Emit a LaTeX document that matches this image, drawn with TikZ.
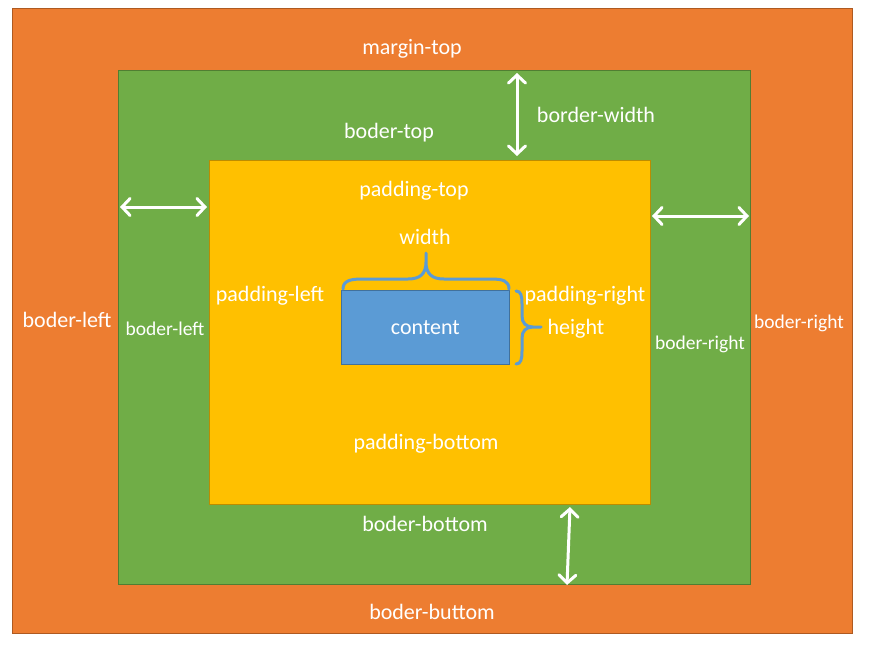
\documentclass[tikz,border=0pt]{standalone}
\usepackage{fontspec}
\setmainfont{Carlito}
\usetikzlibrary{arrows.meta}
\definecolor{marginfill}{HTML}{ED7D31}
\definecolor{marginline}{HTML}{AE5A21}
\definecolor{borderfill}{HTML}{70AD47}
\definecolor{borderline}{HTML}{507E32}
\definecolor{paddingfill}{HTML}{FFC000}
\definecolor{paddingline}{HTML}{BC8C00}
\definecolor{contentfill}{HTML}{5B9BD5}
\definecolor{contentline}{HTML}{41719C}
\tikzset{
  layer/.style={
    rectangle, anchor=north west, inner sep=0pt,
    line width=0.8pt
  },
  marginbox/.style={layer, draw=marginline, fill=marginfill},
  borderbox/.style={layer, draw=borderline, fill=borderfill},
  paddingbox/.style={layer, draw=paddingline, fill=paddingfill},
  contentbox/.style={layer, draw=contentline, fill=contentfill,
    text=white, text height=18pt, text depth=4pt,
    font=\fontsize{22}{26}\selectfont},
  lbl/.style={text=white, inner sep=0pt, text height=18pt, text depth=4pt,
    font=\fontsize{22}{26}\selectfont},
  smalllbl/.style={lbl, text height=17pt, text depth=4pt,
    font=\fontsize{19.5}{23}\selectfont},
  sizearrow/.style={<->, >={Straight Barb[length=8pt, width=17pt, line cap=round]},
    line width=3pt, draw=white},
  bracket/.style={draw=contentfill, line width=3pt, line cap=round}
}
\begin{document}
\begin{tikzpicture}[x=1pt, y=-1pt]
  \useasboundingbox[fill=white] (0,0) rectangle (881,651);

  % nested boxes
  \node[marginbox, minimum width=840pt, minimum height=625pt] (margin) at (12,8) {};
  \node[borderbox, minimum width=632pt, minimum height=514pt] (border) at (118,70) {};
  \node[paddingbox, minimum width=441pt, minimum height=344pt] (padding) at (209,160) {};
  \node[contentbox, minimum width=168pt, minimum height=74pt] (content) at (341,290) {content};

  % labels
  \node[lbl] (margintop) at (412,47) {margin-top};
  \node[lbl] (borderwidth) at (596,115) {border-width};
  \node[lbl] (bordertop) at (389,131) {boder-top};
  \node[lbl] (paddingtop) at (414,189) {padding-top};
  \node[lbl] (widthlbl) at (425,237) {width};
  \node[lbl] (paddingleft) at (270,294) {padding-left};
  \node[lbl] (paddingright) at (585,294) {padding-right};
  \node[lbl] (heightlbl) at (576,327) {height};
  \node[lbl] (marginleft) at (67,320) {boder-left};
  \node[smalllbl] (borderleft) at (165,329) {boder-left};
  \node[smalllbl] (borderright) at (700,343) {boder-right};
  \node[smalllbl] (marginright) at (799,322) {boder-right};
  \node[lbl] (paddingbottom) at (426,442) {padding-bottom};
  \node[lbl] (borderbottom) at (425,524) {boder-bottom};
  \node[lbl] (marginbottom) at (432,612) {boder-buttom};

  % arrow ends
  \coordinate (topA) at (517,73);
  \coordinate (topB) at (517,156);
  \coordinate (leftA) at (120,207);
  \coordinate (leftB) at (207,207);
  \coordinate (rightA) at (652,216);
  \coordinate (rightB) at (749,216);
  \coordinate (bottomA) at (570,507);
  \coordinate (bottomB) at (567,585);

  \draw[sizearrow] (topA) -- (topB);
  \draw[sizearrow] (leftA) -- (leftB);
  \draw[sizearrow] (rightA) -- (rightB);
  \draw[sizearrow] (bottomA) -- (bottomB);

  % braces
  \draw[bracket] (343,289) .. controls (343,281) and (350,279) .. (362,279)
    -- (408,279) .. controls (420,279) and (426,274) .. (426,262) -- (426,253)
    (426,262) .. controls (426,274) and (432,279) .. (444,279)
    -- (491,279) .. controls (503,279) and (509,281) .. (509,289);
  \draw[bracket] (516,291) .. controls (521,291) and (522,296) .. (522,304)
    -- (522,316) .. controls (522,323) and (526,327) .. (533,327) -- (541,327)
    (533,327) .. controls (526,327) and (522,331) .. (522,338)
    -- (522,351) .. controls (522,359) and (521,364) .. (516,364);
\end{tikzpicture}
\end{document}
